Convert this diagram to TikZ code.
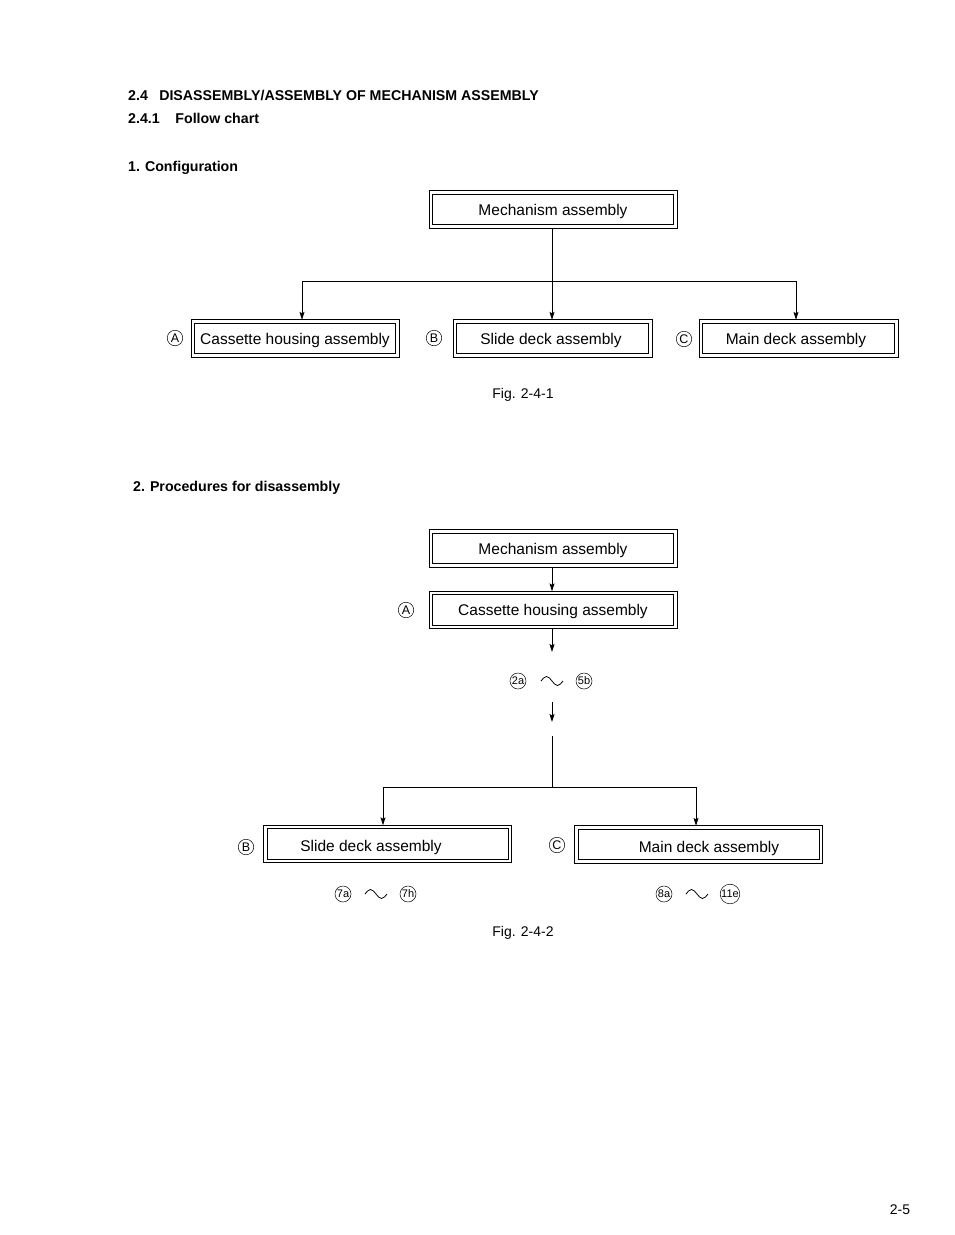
\documentclass[tikz,border=0pt]{standalone}
\usepackage{fontspec}
\setmainfont{Liberation Sans}
\usetikzlibrary{arrows.meta}
\begin{document}
\begin{tikzpicture}[x=1pt,y=-1pt,
  every node/.style={inner sep=0pt},
  boxfont/.style={font=\fontsize{15.5}{18}\selectfont, text depth=0pt},
  dbox/.style={draw=black, line width=0.8pt, minimum height=30.5pt, boxfont},
  outer/.style={line width=0.8pt},
  head/.style={anchor=west, font=\fontsize{14.2}{16}\bfseries\selectfont},
  circ/.style={circle, draw, line width=0.5pt, inner sep=0.3pt, minimum size=15.5pt, font=\fontsize{12.5}{12}\selectfont},
  ncirc/.style={circle, draw, line width=0.5pt, inner sep=0.2pt, minimum size=16pt, font=\fontsize{11}{11}\selectfont},
  figcap/.style={font=\fontsize{14}{16}\selectfont},
  conn/.style={line width=0.9pt},
  arr/.style={line width=0.9pt, -{Stealth[length=8pt,width=5pt,inset=1.5pt]}},
  wave/.style={line width=0.8pt}
]
\useasboundingbox (0,0) rectangle (954,1235);

% headings
\node[head] (h1) at (128,95) {2.4\hspace{0.8em}DISASSEMBLY/ASSEMBLY OF MECHANISM ASSEMBLY};
\node[head] (h2) at (128,118) {2.4.1\hspace{1.1em}Follow chart};
\node[head] (h3) at (128,168) {1.\hspace{0.35em}Configuration};
\node[head] (h4) at (133,488) {2.\hspace{0.35em}Procedures for disassembly};

% ---------- Fig 1 ----------
\node[dbox, minimum width=241pt] (m1) at (553,209.5) {Mechanism assembly};
\node[dbox, minimum width=201pt] (a1) at (295,338.5) {Cassette housing assembly};
\node[dbox, minimum width=192pt] (b1) at (552.5,338.5) {\hspace{-3pt}Slide deck assembly};
\node[dbox, minimum width=192pt] (c1) at (798.5,338.5) {\hspace{-5pt}Main deck assembly};
\foreach \n in {m1,a1,b1,c1}
  \draw[outer] ([shift={(-3,-3)}]\n.north west) rectangle ([shift={(3,3)}]\n.south east);
\node[circ] (la1) at (175,338) {A};
\node[circ] (lb1) at (434,338) {B};
\node[circ] (lc1) at (684,339) {C};

\coordinate (j1) at (552,281);
\coordinate (ja) at (302,281);
\coordinate (jc) at (796,281);
\draw[conn] ([yshift=-3pt]m1.south -| j1) -- (j1);
\draw[conn] (ja) -- (jc);
\draw[arr] (ja) -- ([yshift=3pt]ja |- a1.north);
\draw[arr] (j1) -- ([yshift=3pt]j1 |- b1.north);
\draw[arr] (jc) -- ([yshift=3pt]jc |- c1.north);

\node[figcap] (f1) at (523,395) {Fig. 2-4-1};

% ---------- Fig 2 ----------
\node[dbox, minimum width=241pt] (m2) at (553,548.5) {Mechanism assembly};
\node[dbox, minimum width=241pt] (a2) at (553,610) {Cassette housing assembly};
\node[circ] (la2) at (406,610) {A};

\node[dbox, minimum width=241pt] (b2) at (387.5,844) {};
\node[boxfont] (tb2) at (371,846) {Slide deck assembly};
\node[dbox, minimum width=241pt] (c2) at (698.5,844.5) {};
\node[boxfont] (tc2) at (709,847) {Main deck assembly};
\foreach \n in {m2,a2,b2,c2}
  \draw[outer] ([shift={(-3,-3)}]\n.north west) rectangle ([shift={(3,3)}]\n.south east);
\node[circ] (lb2) at (246,847) {B};
\node[circ] (lc2) at (557,845) {C};

\coordinate (k0) at (552,652);
\coordinate (k1) at (552,702);
\coordinate (k2) at (552,722);
\coordinate (k3) at (552,736);
\coordinate (k4) at (552,787);
\coordinate (kb) at (383,787);
\coordinate (kc) at (696,787);

\draw[arr] ([yshift=-3pt]m2.south -| k0) -- ([yshift=3pt]a2.north -| k0);
\draw[arr] ([yshift=-3pt]a2.south -| k0) -- (k0);
\draw[arr] (k1) -- (k2);
\draw[conn] (k3) -- (k4);
\draw[conn] (kb) -- (kc);
\draw[arr] (kb) -- ([yshift=3pt]kb |- b2.north);
\draw[arr] (kc) -- ([yshift=3pt]kc |- c2.north);

\node[ncirc] (n2a) at (518,681) {2a};
\draw[wave] (541,681) sin (546.5,676.5) cos (552,681) sin (557.5,685.5) cos (563,681);
\node[ncirc] (n5b) at (584,681) {5b};

\node[ncirc] (n7a) at (343,894) {7a};
\draw[wave] (365,894) sin (370.5,889.5) cos (376,894) sin (381.5,898.5) cos (387,894);
\node[ncirc] (n7h) at (408,894) {7h};

\node[ncirc] (n8a) at (664,894) {8a};
\draw[wave] (686,894) sin (691.5,889.5) cos (697,894) sin (702.5,898.5) cos (708,894);
\node[ncirc] (n11e) at (730,894) {11e};

\node[figcap] (f2) at (523,933) {Fig. 2-4-2};
\node[figcap] (pg) at (900,1210) {2-5};
\end{tikzpicture}
\end{document}
